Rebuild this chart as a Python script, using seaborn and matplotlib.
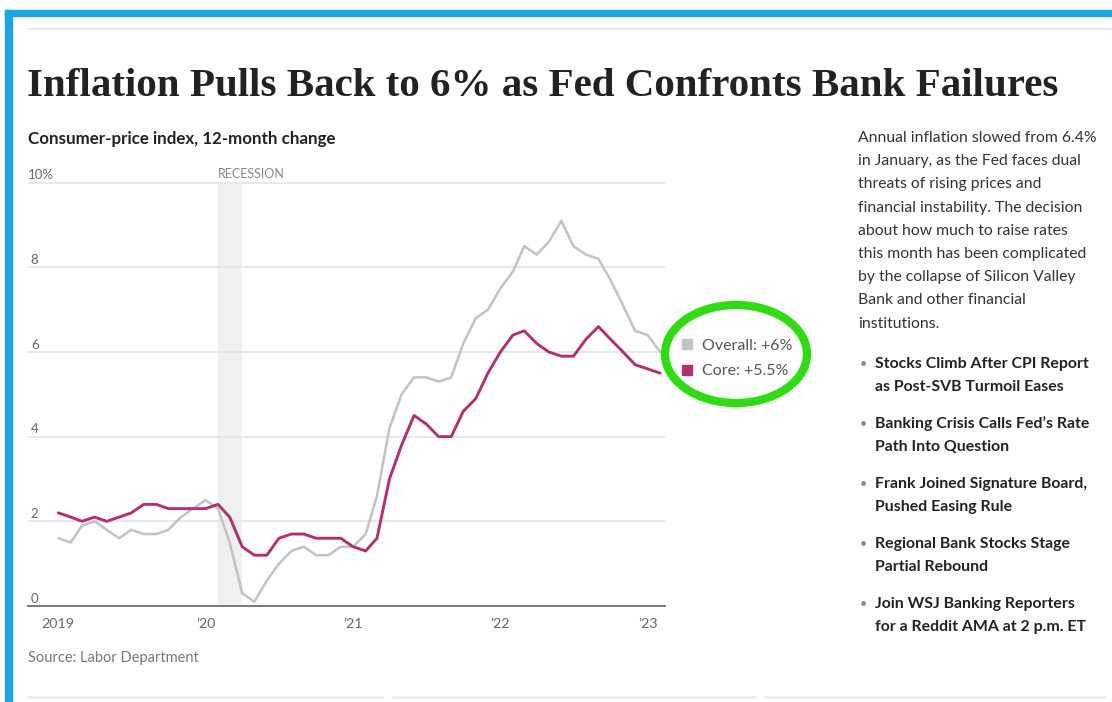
import pandas as pd
import matplotlib.pyplot as plt
import matplotlib.patches as mpatches
import matplotlib.lines as mlines
import seaborn as sns

# Índice de preços ao consumidor, variação em 12 meses (jan/2019 a fev/2023)
meses = pd.date_range("2019-01-01", "2023-02-01", freq="MS")
geral = [1.6, 1.5, 1.9, 2.0, 1.8, 1.6, 1.8, 1.7, 1.7, 1.8, 2.1, 2.3,
         2.5, 2.3, 1.5, 0.3, 0.1, 0.6, 1.0, 1.3, 1.4, 1.2, 1.2, 1.4,
         1.4, 1.7, 2.6, 4.2, 5.0, 5.4, 5.4, 5.3, 5.4, 6.2, 6.8, 7.0,
         7.5, 7.9, 8.5, 8.3, 8.6, 9.1, 8.5, 8.3, 8.2, 7.7, 7.1, 6.5,
         6.4, 6.0]
nucleo = [2.2, 2.1, 2.0, 2.1, 2.0, 2.1, 2.2, 2.4, 2.4, 2.3, 2.3, 2.3,
          2.3, 2.4, 2.1, 1.4, 1.2, 1.2, 1.6, 1.7, 1.7, 1.6, 1.6, 1.6,
          1.4, 1.3, 1.6, 3.0, 3.8, 4.5, 4.3, 4.0, 4.0, 4.6, 4.9, 5.5,
          6.0, 6.4, 6.5, 6.2, 6.0, 5.9, 5.9, 6.3, 6.6, 6.3, 6.0, 5.7,
          5.6, 5.5]
series = ["Overall: +6%", "Core: +5.5%"]
cores = ["#c2c2c2", "#b3306f"]

yticks = [0, 2, 4, 6, 8, 10]
ytick_labels = ["0", "2", "4", "6", "8", "10%"]
xticks = pd.to_datetime(["2019-01-01", "2020-01-01", "2021-01-01", "2022-01-01", "2023-01-01"])
xtick_labels = ["2019", "\u201920", "\u201921", "\u201922", "\u201923"]
recessao = (pd.Timestamp("2020-02-01"), pd.Timestamp("2020-04-01"))

titulo = "Inflation Pulls Back to 6% as Fed Confronts Bank Failures"
subtitulo = "Consumer-price index, 12-month change"
fonte = "Source: Labor Department"
paragrafo = ["Annual inflation slowed from 6.4%",
             "in January, as the Fed faces dual",
             "threats of rising prices and",
             "financial instability. The decision",
             "about how much to raise rates",
             "this month has been complicated",
             "by the collapse of Silicon Valley",
             "Bank and other financial",
             "institutions."]
manchetes = [["Stocks Climb After CPI Report", "as Post-SVB Turmoil Eases"],
             ["Banking Crisis Calls Fed\u2019s Rate", "Path Into Question"],
             ["Frank Joined Signature Board,", "Pushed Easing Rule"],
             ["Regional Bank Stocks Stage", "Partial Rebound"],
             ["Join WSJ Banking Reporters", "for a Reddit AMA at 2 p.m. ET"]]

df = pd.DataFrame({"mes": list(meses) * 2,
                   "valor": geral + nucleo,
                   "serie": [series[0]] * len(geral) + [series[1]] * len(nucleo)})

sns.set_style("white")
plt.rcParams['font.family'] = ['Lato', 'DejaVu Sans']

W, H = 1112, 702
fig = plt.figure(figsize=(W / 100, H / 100), dpi=100)

def fx(px):
    return px / W

def fy(py):
    return (H - py) / H

# moldura azul do print
fig.patches.append(mpatches.Rectangle((fx(5), 0), fx(7), fy(10), transform=fig.transFigure,
                                      color="#1ba6df", zorder=5))
fig.patches.append(mpatches.Rectangle((fx(5), fy(16)), 1, fy(10) - fy(16), transform=fig.transFigure,
                                      color="#1ba6df", zorder=5))
fig.add_artist(mlines.Line2D([fx(28), 1], [fy(29), fy(29)], color="#e6e6e6", lw=1.2))
for a, b in [(28, 383), (393, 755), (765, 1105)]:
    fig.add_artist(mlines.Line2D([fx(a), fx(b)], [fy(697), fy(697)], color="#e8ecec", lw=1.8))

# eixo principal
ax = fig.add_axes([fx(28), fy(606), fx(665) - fx(28), fy(178.4) - fy(606)])
ax.axvspan(recessao[0], recessao[1], ymax=10 / 10.1, color="#eff0f2", lw=0, zorder=0)
sns.lineplot(data=df, x="mes", y="valor", hue="serie", palette=cores, hue_order=series,
             linewidth=1.9, legend=False, ax=ax)
ax.lines[0].set_linewidth(1.8)
ax.lines[1].set_linewidth(2.1)

ax.set_ylim(0, 10.1)
ax.set_xlim(pd.Timestamp("2018-10-18"), pd.Timestamp("2023-02-13"))
ax.set_yticks(yticks)
ax.set_yticklabels([])
ax.tick_params(axis="y", length=0)
ax.yaxis.grid(True, color="#e7e7e7", lw=1.4)
ax.set_axisbelow(True)
for y, lab in zip(yticks, ytick_labels):
    ax.annotate(lab, (0, y), xycoords=("axes fraction", "data"), xytext=(2 if y < 10 else 0, 1),
                textcoords="offset points", ha="left", va="bottom", color="#666666", fontsize=9.5)
ax.set_xticks(xticks)
ax.set_xticklabels(xtick_labels, color="#666666", fontsize=10.3)
ax.tick_params(axis="x", length=4, width=1, color="#777777", pad=5, direction="out")
ax.set_xlabel("")
ax.set_ylabel("")
sns.despine(ax=ax, left=True, top=True, right=True)
ax.spines["bottom"].set_color("#777777")
ax.spines["bottom"].set_linewidth(1.4)
ax.annotate("RECESSION", (recessao[0], 10.1), xytext=(0, -1.5), textcoords="offset points",
            ha="left", va="bottom", color="#888888", fontsize=9,
            family=["Liberation Sans Narrow", "Lato"])

# legenda
handles = [mpatches.Patch(color=c, label=s) for c, s in zip(cores, series)]
fig.legend(handles=handles, loc="center left", bbox_to_anchor=(fx(682), fy(358.5)),
           frameon=False, fontsize=11.5, handlelength=0.65, handleheight=0.65,
           handletextpad=0.6, labelspacing=0.75, borderpad=0, borderaxespad=0,
           labelcolor="#555555")
fig.patches.append(mpatches.Ellipse((fx(736), fy(354)), fx(142), fy(0) - fy(98),
                                    transform=fig.transFigure, fill=False,
                                    edgecolor="#2fdc14", lw=6, zorder=6))

# textos
fig.text(fx(27), fy(96), titulo, family=["Liberation Serif"], fontweight="bold",
         fontsize=29.5, color="#222222", va="baseline", ha="left")
fig.text(fx(28), fy(144), subtitulo, fontweight="bold", fontsize=12.2, color="#222222",
         va="baseline", ha="left")
fig.text(fx(28), fy(662), fonte, fontsize=10.5, color="#777777", va="baseline", ha="left")

for i, linha in enumerate(paragrafo):
    fig.text(fx(858), fy(138 + i * 23.2), linha, fontsize=11.3, color="#333333",
             va="center", ha="left")
for i, (l1, l2) in enumerate(manchetes):
    y0 = 364 + i * 60
    fig.text(fx(860), fy(y0), "\u2022", fontsize=9, color="#888888", va="center", ha="left")
    fig.text(fx(875), fy(y0), l1, fontsize=11.4, fontweight="bold", color="#222222",
             va="center", ha="left")
    fig.text(fx(875), fy(y0 + 23), l2, fontsize=11.4, fontweight="bold", color="#222222",
             va="center", ha="left")

fig.savefig("out.png", dpi=100)
